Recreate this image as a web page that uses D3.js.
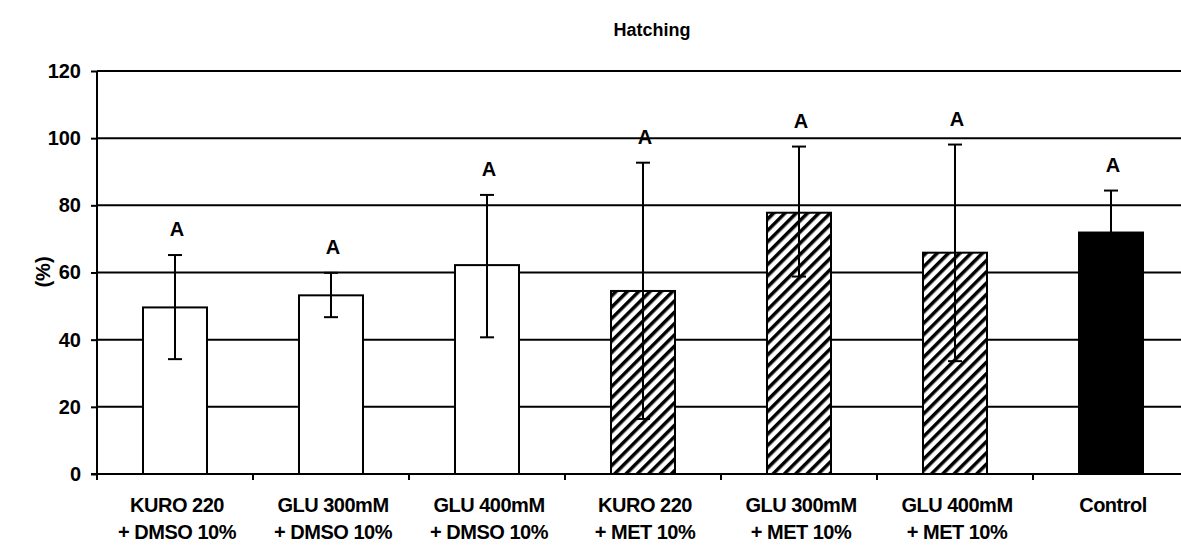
<!DOCTYPE html>
<html>
<head>
<meta charset="utf-8">
<script src="https://cdn.jsdelivr.net/npm/d3@7"></script>
<style>
  html, body { margin: 0; padding: 0; background: #fff; }
  svg { display: block; font-family: "Liberation Sans", Arial, sans-serif; font-weight: bold; }
</style>
</head>
<body>
<svg id="chart" width="1181" height="545"></svg>
<script>
// Hatching rate per treatment (mean ± SD, %)
const categories = [
  ["KURO 220", "+ DMSO 10%"],
  ["GLU 300mM", "+ DMSO 10%"],
  ["GLU 400mM", "+ DMSO 10%"],
  ["KURO 220", "+ MET 10%"],
  ["GLU 300mM", "+ MET 10%"],
  ["GLU 400mM", "+ MET 10%"],
  ["Control"]
];
const means     = [49.6, 53.2, 62.2, 54.5, 77.8, 65.9, 71.9];
const errUpper  = [65.2, 59.9, 83.1, 92.7, 97.5, 98.1, 84.4];
const errLower  = [34.2, 46.7, 40.7, 16.4, 58.8, 33.6, 59.4];
const groupLabels = ["A", "A", "A", "A", "A", "A", "A"];
const fills     = ["plain", "plain", "plain", "hatch", "hatch", "hatch", "solid"];
const yTicks    = [0, 20, 40, 60, 80, 100, 120];

const svg = d3.select("#chart");
const plotLeft = 97, plotRight = 1189, plotTop = 71, plotBottom = 474;

const x = d3.scaleBand().domain(d3.range(categories.length)).range([plotLeft, plotRight]).paddingInner(0).paddingOuter(0);
const y = d3.scaleLinear().domain([0, 120]).range([plotBottom, plotTop]);

// diagonal hatch pattern
const defs = svg.append("defs");
const pat = defs.append("pattern")
  .attr("id", "diag")
  .attr("patternUnits", "userSpaceOnUse")
  .attr("width", 8).attr("height", 8)
  .attr("patternTransform", "rotate(45)");
pat.append("rect").attr("width", 8).attr("height", 8).attr("fill", "#fff");
pat.append("rect").attr("x", 0).attr("y", 0).attr("width", 3.5).attr("height", 8).attr("fill", "#000");

// title
svg.append("text")
  .attr("x", 652).attr("y", 36)
  .attr("text-anchor", "middle")
  .attr("font-size", 18)
  .text("Hatching");

// y-axis title
svg.append("text")
  .attr("transform", "translate(50,272) rotate(-90)")
  .attr("text-anchor", "middle")
  .attr("font-size", 20)
  .text("(%)");

// horizontal gridlines
svg.append("g").selectAll("line")
  .data(yTicks.filter(d => d > 0))
  .join("line")
  .attr("x1", plotLeft).attr("x2", plotRight)
  .attr("y1", d => y(d)).attr("y2", d => y(d))
  .attr("stroke", "#000").attr("stroke-width", 2);

// bars
const bw = 64;
svg.append("g").selectAll("rect")
  .data(means)
  .join("rect")
  .attr("x", (d, i) => x(i) + x.bandwidth() / 2 - bw / 2)
  .attr("y", d => y(d))
  .attr("width", bw)
  .attr("height", d => y(0) - y(d))
  .attr("fill", (d, i) => fills[i] === "hatch" ? "url(#diag)" : fills[i] === "solid" ? "#000" : "#fff")
  .attr("stroke", "#000").attr("stroke-width", 2);

// error bars
const cap = 14;
const eb = svg.append("g").attr("stroke", "#000").attr("stroke-width", 2);
means.forEach((m, i) => {
  const cx = x(i) + x.bandwidth() / 2;
  eb.append("line").attr("x1", cx).attr("x2", cx).attr("y1", y(errLower[i])).attr("y2", y(errUpper[i]));
  eb.append("line").attr("x1", cx - cap / 2).attr("x2", cx + cap / 2).attr("y1", y(errUpper[i])).attr("y2", y(errUpper[i]));
  eb.append("line").attr("x1", cx - cap / 2).attr("x2", cx + cap / 2).attr("y1", y(errLower[i])).attr("y2", y(errLower[i]));
});

// group letters above error bars
svg.append("g").selectAll("text")
  .data(groupLabels)
  .join("text")
  .attr("x", (d, i) => x(i) + x.bandwidth() / 2 + 2)
  .attr("y", (d, i) => y(errUpper[i]) - 19)
  .attr("text-anchor", "middle")
  .attr("font-size", 20)
  .text(d => d);

// y axis
const yAxis = svg.append("g")
  .attr("transform", `translate(${plotLeft},0)`)
  .call(d3.axisLeft(y).tickValues(yTicks).tickSize(6).tickPadding(10));
yAxis.select(".domain").attr("stroke-width", 2).attr("d", `M0,${plotTop}V${plotBottom}`);
yAxis.selectAll(".tick line").attr("stroke-width", 2);
yAxis.selectAll(".tick text").attr("font-size", 20).attr("font-family", "Liberation Sans, Arial, sans-serif").attr("font-weight", "bold").attr("fill", "#000");

// x axis with ticks at category boundaries
const xAxisG = svg.append("g").attr("transform", `translate(0,${plotBottom})`);
xAxisG.append("line").attr("x1", plotLeft - 6).attr("x2", plotRight).attr("stroke", "#000").attr("stroke-width", 2);
xAxisG.selectAll(".bt")
  .data(d3.range(categories.length + 1))
  .join("line")
  .attr("class", "bt")
  .attr("x1", d => plotLeft + d * x.bandwidth()).attr("x2", d => plotLeft + d * x.bandwidth())
  .attr("y1", 0).attr("y2", 6)
  .attr("stroke", "#000").attr("stroke-width", 2);

const catG = svg.append("g").selectAll("text")
  .data(categories)
  .join("text")
  .attr("text-anchor", "middle")
  .attr("font-size", 20)
  .attr("letter-spacing", -0.5)
  .attr("transform", (d, i) => `translate(${x(i) + x.bandwidth() / 2 + 2},0)`);
catG.selectAll("tspan")
  .data(d => d)
  .join("tspan")
  .attr("x", 0)
  .attr("y", (d, j) => 512 + j * 27)
  .text(d => d);
</script>
</body>
</html>
